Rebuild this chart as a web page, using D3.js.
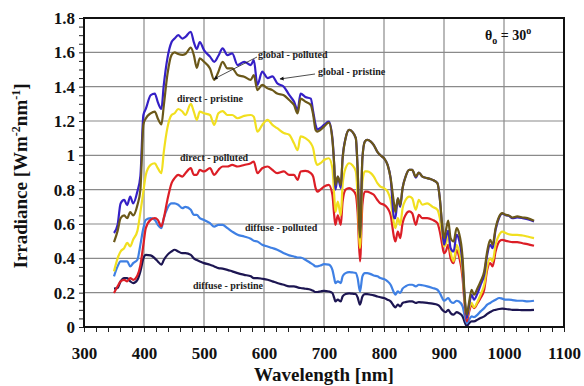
<!DOCTYPE html>
<html>
<head>
<meta charset="utf-8">
<script src="https://cdn.jsdelivr.net/npm/d3@7"></script>
<style>
  body { margin: 0; background: #fff; }
  text { font-family: "Liberation Serif", "Times New Roman", serif; font-weight: bold; }
</style>
</head>
<body>
<div id="chart"></div>
<script>
// wavelength samples (nm), shared by all series
const wavelengths = [
    350, 356, 361, 367, 372, 377, 382, 389, 394, 399, 403, 411, 418, 423, 429, 433, 439, 446, 451, 457, 464, 469, 478, 483, 488, 493,
    500, 510, 517, 524, 531, 539, 547, 556, 567, 578, 583, 589, 597, 606, 614, 622, 633, 642, 650, 656, 661, 669, 678, 682, 686, 689, 694,
    700, 708, 714, 717, 719, 723, 728, 731, 736, 742, 747, 753, 756, 760, 764, 768, 772, 778, 783, 789, 794, 800, 806, 811, 817, 819, 823, 827, 831, 836, 842, 847, 853, 858, 864, 872, 881, 889, 893, 897,
    900, 903, 907, 911, 916, 921, 925, 931, 934, 938, 942, 946, 950, 956, 961, 967, 972, 977, 981, 986, 992, 997, 1003, 1008, 1014, 1022, 1031, 1039, 1050
];

const globalPristine = [
    0.547, 0.595, 0.72, 0.74, 0.71, 0.76, 0.72, 0.79, 0.88, 1.235, 1.27, 1.35, 1.36, 1.31, 1.27, 1.41, 1.565, 1.66, 1.68, 1.70, 1.68, 1.69, 1.72, 1.66, 1.62, 1.66,
    1.613, 1.575, 1.545, 1.58, 1.623, 1.584, 1.594, 1.526, 1.545, 1.526, 1.555, 1.41, 1.488, 1.45, 1.46, 1.42, 1.40, 1.352, 1.313, 1.264, 1.36, 1.34, 1.33, 1.254, 1.177, 1.15, 1.16,
    1.177, 1.196, 1.10, 0.944, 0.80, 0.876, 0.81, 0.983, 1.10, 1.148, 1.138, 1.10, 0.925, 0.55, 0.983, 1.08, 1.09, 1.08, 1.06, 1.02, 1.00, 0.983, 0.944, 0.867, 0.634, 0.634, 0.75, 0.70, 0.81, 0.876, 0.915, 0.915, 0.87, 0.90, 0.876, 0.867, 0.857, 0.838, 0.75, 0.58,
    0.479, 0.52, 0.56, 0.459, 0.44, 0.537, 0.508, 0.363, 0.188, 0.052, 0.13, 0.188, 0.159, 0.198, 0.246, 0.304, 0.42, 0.479, 0.459, 0.566, 0.638, 0.66, 0.652, 0.648, 0.634, 0.638, 0.634, 0.628, 0.615
];

const globalPolluted = [
    0.494, 0.56, 0.634, 0.65, 0.634, 0.67, 0.65, 0.71, 0.80, 1.18, 1.215, 1.245, 1.255, 1.215, 1.18, 1.29, 1.47, 1.585, 1.60, 1.59, 1.585, 1.59, 1.627, 1.585, 1.51, 1.565,
    1.545, 1.506, 1.44, 1.487, 1.545, 1.506, 1.506, 1.468, 1.458, 1.44, 1.468, 1.38, 1.41, 1.39, 1.38, 1.36, 1.35, 1.322, 1.293, 1.245, 1.33, 1.313, 1.293, 1.235, 1.148, 1.138, 1.148,
    1.167, 1.19, 1.09, 0.944, 0.828, 0.876, 0.828, 0.983, 1.10, 1.148, 1.138, 1.10, 0.925, 0.52, 0.983, 1.08, 1.09, 1.08, 1.06, 1.02, 1.00, 0.983, 0.944, 0.867, 0.712, 0.67, 0.75, 0.71, 0.81, 0.876, 0.915, 0.915, 0.876, 0.90, 0.876, 0.867, 0.857, 0.838, 0.75, 0.595,
    0.518, 0.56, 0.62, 0.518, 0.498, 0.576, 0.547, 0.40, 0.207, 0.072, 0.149, 0.217, 0.188, 0.227, 0.266, 0.324, 0.44, 0.508, 0.479, 0.576, 0.644, 0.663, 0.653, 0.65, 0.638, 0.644, 0.638, 0.634, 0.619
];

const directPristine = [
    0.324, 0.40, 0.44, 0.46, 0.49, 0.47, 0.51, 0.56, 0.67, 0.79, 0.886, 0.944, 0.954, 0.925, 0.896, 1.02, 1.16, 1.235, 1.245, 1.27, 1.255, 1.235, 1.30, 1.255, 1.206, 1.255,
    1.245, 1.235, 1.177, 1.245, 1.258, 1.235, 1.235, 1.216, 1.23, 1.235, 1.225, 1.138, 1.177, 1.206, 1.177, 1.158, 1.13, 1.12, 1.07, 1.03, 1.11, 1.10, 1.07, 1.04, 0.964, 0.944, 0.954,
    0.973, 0.983, 0.925, 0.77, 0.67, 0.73, 0.65, 0.828, 0.925, 0.954, 0.944, 0.906, 0.77, 0.46, 0.847, 0.906, 0.906, 0.896, 0.876, 0.838, 0.818, 0.809, 0.789, 0.74, 0.595, 0.576, 0.634, 0.595, 0.692, 0.74, 0.76, 0.75, 0.683, 0.74, 0.712, 0.72, 0.70, 0.683, 0.634, 0.537,
    0.47, 0.48, 0.537, 0.44, 0.382, 0.479, 0.44, 0.324, 0.169, 0.052, 0.11, 0.14, 0.114, 0.149, 0.188, 0.246, 0.353, 0.40, 0.382, 0.479, 0.537, 0.556, 0.547, 0.54, 0.537, 0.537, 0.533, 0.527, 0.518
];

const directPolluted = [
    0.198, 0.237, 0.266, 0.275, 0.266, 0.285, 0.275, 0.30, 0.36, 0.48, 0.576, 0.624, 0.634, 0.624, 0.586, 0.634, 0.74, 0.838, 0.867, 0.886, 0.876, 0.896, 0.925, 0.886, 0.886, 0.915,
    0.906, 0.925, 0.886, 0.915, 0.935, 0.935, 0.944, 0.935, 0.944, 0.954, 0.964, 0.896, 0.925, 0.935, 0.915, 0.896, 0.906, 0.886, 0.886, 0.857, 0.906, 0.909, 0.896, 0.876, 0.809, 0.789, 0.80,
    0.818, 0.828, 0.77, 0.65, 0.595, 0.65, 0.595, 0.73, 0.80, 0.809, 0.80, 0.77, 0.67, 0.382, 0.712, 0.789, 0.789, 0.78, 0.77, 0.74, 0.72, 0.712, 0.692, 0.653, 0.518, 0.498, 0.556, 0.518, 0.605, 0.653, 0.673, 0.663, 0.595, 0.653, 0.634, 0.634, 0.624, 0.605, 0.556, 0.479,
    0.43, 0.44, 0.479, 0.40, 0.372, 0.45, 0.411, 0.285, 0.149, 0.033, 0.091, 0.13, 0.11, 0.14, 0.169, 0.217, 0.333, 0.372, 0.353, 0.44, 0.498, 0.508, 0.502, 0.498, 0.494, 0.494, 0.488, 0.483, 0.473
];

const diffusePolluted = [
    0.295, 0.353, 0.382, 0.382, 0.382, 0.353, 0.372, 0.392, 0.48, 0.576, 0.624, 0.634, 0.624, 0.595, 0.576, 0.634, 0.692, 0.72, 0.72, 0.712, 0.692, 0.70, 0.683, 0.653, 0.653, 0.634,
    0.624, 0.605, 0.585, 0.595, 0.595, 0.576, 0.556, 0.537, 0.527, 0.514, 0.502, 0.498, 0.479, 0.469, 0.46, 0.45, 0.43, 0.417, 0.411, 0.405, 0.405, 0.392, 0.372, 0.363, 0.353, 0.353, 0.358,
    0.366, 0.363, 0.333, 0.285, 0.256, 0.266, 0.256, 0.295, 0.314, 0.32, 0.318, 0.314, 0.285, 0.207, 0.295, 0.314, 0.314, 0.308, 0.30, 0.295, 0.285, 0.279, 0.266, 0.246, 0.198, 0.188, 0.207, 0.198, 0.223, 0.237, 0.246, 0.246, 0.237, 0.246, 0.243, 0.237, 0.227, 0.217, 0.198, 0.169,
    0.153, 0.159, 0.169, 0.149, 0.14, 0.153, 0.149, 0.12, 0.072, 0.023, 0.043, 0.062, 0.058, 0.072, 0.091, 0.11, 0.13, 0.14, 0.149, 0.159, 0.169, 0.165, 0.159, 0.159, 0.157, 0.153, 0.153, 0.149, 0.153
];

const diffusePristine = [
    0.223, 0.227, 0.266, 0.285, 0.285, 0.266, 0.256, 0.275, 0.324, 0.40, 0.42, 0.417, 0.40, 0.382, 0.363, 0.39, 0.42, 0.44, 0.45, 0.44, 0.43, 0.43, 0.42, 0.40, 0.39, 0.382,
    0.372, 0.363, 0.353, 0.343, 0.34, 0.333, 0.324, 0.314, 0.304, 0.295, 0.285, 0.285, 0.281, 0.275, 0.266, 0.256, 0.246, 0.237, 0.237, 0.231, 0.227, 0.223, 0.217, 0.211, 0.204, 0.204, 0.207,
    0.211, 0.207, 0.198, 0.169, 0.149, 0.159, 0.149, 0.178, 0.192, 0.196, 0.194, 0.192, 0.173, 0.13, 0.178, 0.192, 0.192, 0.188, 0.184, 0.178, 0.173, 0.169, 0.159, 0.149, 0.12, 0.114, 0.13, 0.12, 0.14, 0.145, 0.149, 0.149, 0.14, 0.145, 0.143, 0.14, 0.136, 0.13, 0.12, 0.10,
    0.091, 0.087, 0.10, 0.081, 0.072, 0.087, 0.081, 0.062, 0.033, 0.004, 0.023, 0.033, 0.033, 0.043, 0.052, 0.062, 0.076, 0.087, 0.095, 0.10, 0.105, 0.107, 0.105, 0.103, 0.10, 0.10, 0.098, 0.098, 0.10
];

const xTicks = [300, 400, 500, 600, 700, 800, 900, 1000, 1100];
const yTicks = [0, 0.2, 0.4, 0.6, 0.8, 1, 1.2, 1.4, 1.6, 1.8];

const series = [
    { name: 'diffuse - pristine', values: diffusePristine, color: '#1d1652' },
    { name: 'diffuse - polluted', values: diffusePolluted, color: '#3f80e4' },
    { name: 'direct - polluted', values: directPolluted, color: '#dc1e26' },
    { name: 'direct - pristine', values: directPristine, color: '#f1df1f' },
    { name: 'global - pristine', values: globalPristine, color: '#3520c6' },
    { name: 'global - polluted', values: globalPolluted, color: '#6b5819' }
];

const totalWidth = 584;
const totalHeight = 386;
const margins = { top: 18, right: 20, bottom: 59, left: 84 };
const width = totalWidth - margins.left - margins.right;
const height = totalHeight - margins.top - margins.bottom;

const svg = d3.select('#chart').append('svg')
    .attr('width', totalWidth)
    .attr('height', totalHeight);

const canvas = svg.append('g')
    .attr('transform', `translate(${margins.left}, ${margins.top})`);

const xScale = d3.scaleLinear()
    .domain([300, 1100])
    .range([0, width]);

const yScale = d3.scaleLinear()
    .domain([0, 1.8])
    .range([height, 0]);

// grid
canvas.append('g')
    .selectAll('line')
    .data(xTicks.slice(1, -1))
    .enter()
    .append('line')
    .attr('x1', d => xScale(d)).attr('x2', d => xScale(d))
    .attr('y1', 0).attr('y2', height)
    .attr('stroke', '#8a8a8a')
    .attr('stroke-width', 1.2);

canvas.append('g')
    .selectAll('line')
    .data(yTicks.slice(1, -1))
    .enter()
    .append('line')
    .attr('x1', 0).attr('x2', width)
    .attr('y1', d => yScale(d)).attr('y2', d => yScale(d))
    .attr('stroke', '#8a8a8a')
    .attr('stroke-width', 1.2);

// minor ticks
const xAxis = canvas.append('g')
    .attr('transform', `translate(0, ${height})`)
    .call(d3.axisBottom(xScale).ticks(40).tickSize(5).tickFormat(''));
const yAxis = canvas.append('g')
    .call(d3.axisLeft(yScale).ticks(36).tickSize(5).tickFormat(''));
[xAxis, yAxis].forEach(a => {
    a.select('.domain').remove();
    a.selectAll('line').attr('stroke', '#222').attr('stroke-width', 1);
});

// tick labels
const xLabels = canvas.append('g')
    .attr('transform', `translate(0, ${height})`)
    .call(d3.axisBottom(xScale).tickValues(xTicks).tickSize(0).tickPadding(20).tickFormat(d3.format('d')));
xLabels.select('.domain').remove();
xLabels.selectAll('text')
    .style('font-family', '"Liberation Serif", serif')
    .style('font-weight', 'bold')
    .style('font-size', '17px')
    .attr('fill', '#111');

const yLabels = canvas.append('g')
    .call(d3.axisLeft(yScale).tickValues(yTicks).tickSize(0).tickPadding(9).tickFormat(d => d3.format('~g')(d)));
yLabels.select('.domain').remove();
yLabels.selectAll('text')
    .style('font-family', '"Liberation Serif", serif')
    .style('font-weight', 'bold')
    .style('font-size', '17px')
    .attr('fill', '#111');

// curves
const line = d3.line()
    .x((d, i) => xScale(wavelengths[i]))
    .y(d => yScale(d))
    .curve(d3.curveMonotoneX);

canvas.selectAll('path.curve')
    .data(series)
    .enter()
    .append('path')
    .attr('class', 'curve')
    .attr('d', s => line(s.values))
    .attr('fill', 'none')
    .attr('stroke', s => s.color)
    .attr('stroke-width', 2.2)
    .attr('stroke-linejoin', 'round');

// frame
canvas.append('rect')
    .attr('width', width)
    .attr('height', height)
    .attr('fill', 'none')
    .attr('stroke', '#111')
    .attr('stroke-width', 2);

// curve labels
const curveLabels = [
    { text: 'global - polluted', x: 258, y: 58 },
    { text: 'global - pristine', x: 318, y: 75 },
    { text: 'direct - pristine', x: 177, y: 102 },
    { text: 'direct - polluted', x: 180, y: 161 },
    { text: 'diffuse - polluted', x: 245, y: 231 },
    { text: 'diffuse - pristine', x: 193, y: 289 }
];
svg.append('g')
    .selectAll('text')
    .data(curveLabels)
    .enter()
    .append('text')
    .attr('x', d => d.x)
    .attr('y', d => d.y)
    .style('font-size', '10px')
    .attr('fill', '#222')
    .text(d => d.text);

// arrows
const defs = svg.append('defs');
defs.append('marker')
    .attr('id', 'arrow')
    .attr('viewBox', '0 0 10 10')
    .attr('refX', 9).attr('refY', 5)
    .attr('markerWidth', 7).attr('markerHeight', 5)
    .attr('orient', 'auto')
    .append('path')
    .attr('d', 'M0,0L10,5L0,10z')
    .attr('fill', '#111');

const arrows = [
    { x1: 257, y1: 57, x2: 214, y2: 79 },
    { x1: 315, y1: 74, x2: 280, y2: 79 }
];
svg.append('g')
    .selectAll('line')
    .data(arrows)
    .enter()
    .append('line')
    .attr('x1', d => d.x1).attr('y1', d => d.y1)
    .attr('x2', d => d.x2).attr('y2', d => d.y2)
    .attr('stroke', '#222')
    .attr('stroke-width', 0.8)
    .attr('marker-end', 'url(#arrow)');

// theta annotation
const theta = svg.append('text')
    .attr('x', 485)
    .attr('y', 40)
    .style('font-size', '14px')
    .attr('fill', '#111');
theta.append('tspan').text('θ');
theta.append('tspan').attr('dy', 4).style('font-size', '10px').text('o');
theta.append('tspan').attr('dy', -4).text(' = 30');
theta.append('tspan').attr('dy', -6).style('font-size', '10px').text('o');

// axis titles
svg.append('text')
    .attr('x', margins.left + width / 2)
    .attr('y', 381)
    .attr('text-anchor', 'middle')
    .style('font-size', '19px')
    .attr('fill', '#111')
    .text('Wavelength [nm]');

const yTitle = svg.append('text')
    .attr('transform', 'translate(27, 176)rotate(-90)')
    .attr('text-anchor', 'middle')
    .style('font-size', '19px')
    .attr('fill', '#111');
yTitle.append('tspan').text('Irradiance [Wm');
yTitle.append('tspan').attr('dy', -7).style('font-size', '12px').text('-2');
yTitle.append('tspan').attr('dy', 7).text('nm');
yTitle.append('tspan').attr('dy', -7).style('font-size', '12px').text('-1');
yTitle.append('tspan').attr('dy', 7).text(']');
</script>
</body>
</html>
